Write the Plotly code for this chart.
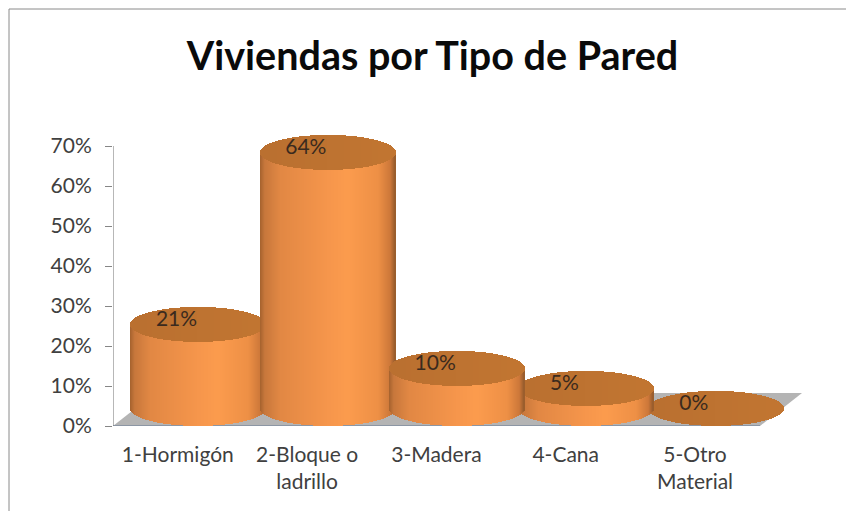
import numpy as np
import plotly.graph_objects as go

categories = ["1-Hormigón", "2-Bloque o<br>ladrillo", "3-Madera", "4-Cana", "5-Otro<br>Material"]
values = [21, 64, 10, 5, 0]
y_ticks = [0, 10, 20, 30, 40, 50, 60, 70]
title_text = "Viviendas por Tipo de Pared"
draw_order = [0, 1, 4, 3, 2]

W, H = 846, 511
L, R, T, B = 113, 36, 130, 85
X0, STEP = 198.5, 129.3       # pixel of first cylinder, spacing
PXY = 4.0                     # pixels per percent
xr = [(L - X0) / STEP, (W - R - X0) / STEP]
yr = [0, (H - B - T) / PXY]
RX = 67.5 / STEP              # cylinder half width, in category units
RY = 17.5 / PXY               # ellipse half height, in percent units
LIFT = 4.4                    # centre of base above the floor's front edge
N = 135


def px(x):
    return (x - X0) / STEP


def shade(u):
    stops_u = [-1.0, -0.93, -0.7, 0.0, 0.3, 0.75, 0.93, 1.0]
    r = [165, 200, 226, 246, 252, 238, 205, 150]
    g = [98, 120, 136, 150, 156, 144, 120, 92]
    b = [46, 60, 68, 76, 78, 70, 58, 44]
    return "rgb(%d,%d,%d)" % (np.interp(u, stops_u, r), np.interp(u, stops_u, g), np.interp(u, stops_u, b))


def lid(u):
    t = (u + 1) / 2
    return "rgb(%d,%d,%d)" % (186 + 8 * t, 112 + 6 * t, 48 + 2 * t)


fig = go.Figure()
us = (np.arange(N) + 0.5) / N * 2 - 1
s = np.sqrt(1 - us ** 2)
for i in draw_order:
    cx = i + us * RX
    if values[i] > 0:
        fig.add_bar(x=cx, y=[values[i] + RY * a for a in s], base=LIFT - RY * s, width=2 * RX / N * 1.15,
                    marker=dict(color=[shade(u) for u in us], line_width=0), hoverinfo="skip", showlegend=False)
    fig.add_bar(x=cx, y=2 * RY * s, base=LIFT + values[i] - RY * s, width=2 * RX / N * 1.15,
                marker=dict(color=[lid(u) for u in us], line_width=0), hoverinfo="skip", showlegend=False)

fig.add_trace(go.Scatter(
    x=[i - 0.17 for i in range(len(values))],
    y=[v + LIFT + 0.9 for v in values],
    text=[f"{v}%" for v in values], mode="text",
    textfont=dict(family="Lato", size=21, color="#3a2a1e"),
    hoverinfo="skip", showlegend=False))

floor_top = 33 / PXY
frame_x = (9 - L) / (W - L - R)
frame_y = (H - B - 9) / (H - T - B)
shapes = [
    dict(type="path", layer="below", xref="x", yref="y", line_width=0, fillcolor="#b4b4b4",
         path=f"M {px(113)} 0 L {px(155)} {floor_top} L {px(802)} {floor_top} L {px(760)} 0 Z"),
    dict(type="line", layer="below", xref="x", yref="y", x0=px(113), x1=px(760), y0=0, y1=0,
         line=dict(color="#8c96a4", width=2)),
    dict(type="line", xref="x", yref="y", x0=px(113), x1=px(113), y0=0, y1=70,
         line=dict(color="#868686", width=1.2)),
    dict(type="line", xref="paper", yref="paper", x0=frame_x, x1=1.1, y0=frame_y, y1=frame_y,
         line=dict(color="#8a8a8a", width=1)),
    dict(type="line", xref="paper", yref="paper", x0=frame_x, x1=frame_x, y0=-0.4, y1=frame_y,
         line=dict(color="#8a8a8a", width=1)),
]

fig.update_layout(
    width=W, height=H, autosize=False, margin=dict(l=L, r=R, t=T, b=B),
    paper_bgcolor="white", plot_bgcolor="rgba(0,0,0,0)", barmode="overlay", bargap=0,
    font=dict(family="Lato", color="#404040"),
    title=dict(text=f"<b>{title_text}</b>", x=432.5 / W, xanchor="center", y=1 - 56 / H, yanchor="middle",
               font=dict(family="Lato", size=39.5, color="#0a0a0a")),
    shapes=shapes,
    xaxis=dict(range=xr, tickmode="array", tickvals=[i - 0.16 for i in range(len(categories))],
               ticktext=categories, showgrid=False, zeroline=False, showline=False, ticks="",
               tickangle=0, tickfont=dict(family="Lato", size=21, color="#404040"), ticklabelstandoff=14),
    yaxis=dict(range=yr, tickmode="array", tickvals=y_ticks, ticktext=[f"{t}%" for t in y_ticks],
               showgrid=False, zeroline=False, showline=False, ticks="outside", ticklen=7,
               tickcolor="#868686", tickwidth=1, ticklabelstandoff=9,
               tickfont=dict(family="Lato", size=21, color="#404040")),
)

fig.write_html("out.html", post_script="document.body.style.margin='0';", config={"displayModeBar": False})
